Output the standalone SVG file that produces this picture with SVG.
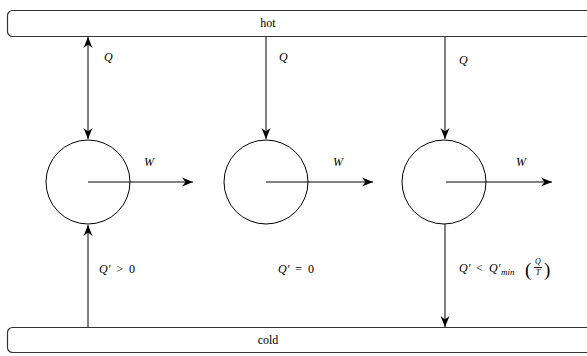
<svg xmlns="http://www.w3.org/2000/svg" width="587" height="356" viewBox="0 0 587 356">
<style>
.bar{fill:#fff;stroke:#333;stroke-width:1.2}
.node{fill:none;stroke:#000;stroke-width:1}
.ln{stroke:#000;stroke-width:1;fill:none}
text{font-family:"Liberation Serif","Times New Roman","DejaVu Serif",serif;fill:#000}
.t{font-size:12px}
.m{font-size:12px;font-style:italic}
.n{font-size:12px}
.s{font-size:9px;font-style:italic}
.f{font-size:8px;font-style:italic}
.p{font-size:19px;font-weight:200}
</style>
<defs>
<marker id="ah" markerUnits="userSpaceOnUse" markerWidth="14" markerHeight="12" viewBox="-12 -6 14 12" refX="0" refY="0" orient="auto-start-reverse">
<path d="M0,0 L-11,-4.5 L-7.5,0 L-11,4.5 Z" fill="#000"/>
</marker>
</defs>
<g id="hot"><rect class="bar" x="7.5" y="10.5" width="590" height="26" rx="5"/><text class="t" x="268" y="27" text-anchor="middle">hot</text></g>
<g id="cold"><rect class="bar" x="7.5" y="327.5" width="590" height="25" rx="5"/><text class="t" x="268" y="344" text-anchor="middle">cold</text></g>
<g id="engine1"><circle class="node" cx="88" cy="182" r="42"/></g>
<g id="engine2"><circle class="node" cx="266" cy="182" r="42"/></g>
<g id="engine3"><circle class="node" cx="444" cy="182" r="42"/></g>
<g id="connectors">
<line class="ln" x1="88" y1="139" x2="88" y2="37" marker-start="url(#ah)" marker-end="url(#ah)"/>
<line class="ln" x1="88" y1="327" x2="88" y2="225" marker-end="url(#ah)"/>
<line class="ln" x1="88" y1="182" x2="193" y2="182" marker-end="url(#ah)"/>
<line class="ln" x1="266" y1="37" x2="266" y2="139" marker-end="url(#ah)"/>
<line class="ln" x1="266" y1="182" x2="373" y2="182" marker-end="url(#ah)"/>
<line class="ln" x1="445" y1="37" x2="445" y2="139" marker-end="url(#ah)"/>
<line class="ln" x1="446" y1="182" x2="552" y2="182" marker-end="url(#ah)"/>
<line class="ln" x1="445" y1="224" x2="445" y2="327" marker-end="url(#ah)"/>
</g>
<g id="labels">
<text class="m" x="104" y="61">Q</text>
<text class="m" x="279" y="61">Q</text>
<text class="m" x="459" y="64">Q</text>
<text class="m" x="144" y="166">W</text>
<text class="m" x="333" y="166">W</text>
<text class="m" x="516" y="166">W</text>
<text class="n" x="99" y="273" word-spacing="3"><tspan font-style="italic">Q′</tspan> &gt; 0</text>
<text class="n" x="278" y="273" word-spacing="3"><tspan font-style="italic">Q′</tspan> = 0</text>
<text class="m" x="459" y="272">Q′</text>
<text class="n" x="476" y="272">&lt;</text>
<text class="m" x="489" y="272">Q′</text>
<text class="s" x="501" y="275">min</text>
<text class="p" x="525" y="276">(</text>
<text class="f" x="538" y="264" text-anchor="middle">Q</text>
<line class="ln" x1="534" y1="267.5" x2="542" y2="267.5" stroke-width="0.6"/>
<text class="f" x="538" y="275" text-anchor="middle">T</text>
<text class="p" x="544" y="276">)</text>
</g>
</svg>
